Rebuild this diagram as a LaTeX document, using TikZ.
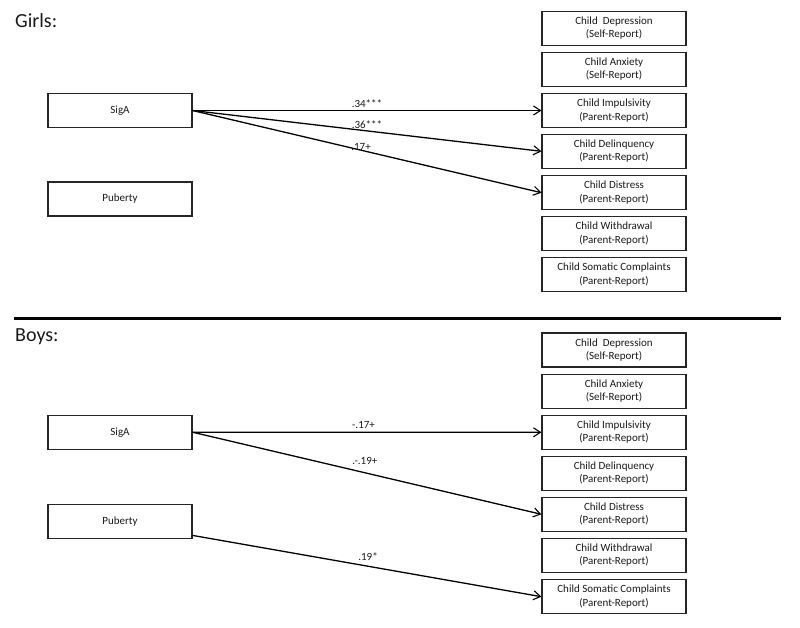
\documentclass[tikz,border=0pt]{standalone}
\usepackage{fontspec}
\setmainfont{Carlito}
\usetikzlibrary{arrows.meta}
\definecolor{txt}{HTML}{1A1A1A}
\begin{document}
\begin{tikzpicture}[x=1pt,y=-1pt,
  box/.style={draw=black!85, line width=1.1pt, minimum width=144pt, minimum height=34pt,
    inner sep=0pt, align=center, font=\fontsize{11}{13.5}\selectfont, text=txt},
  arr/.style={line width=1.3pt, -{Straight Barb[length=7pt,width=9pt,line width=1.1pt]}},
  lbl/.style={font=\fontsize{11}{13}\selectfont, text=txt, inner sep=0pt},
  ttl/.style={font=\fontsize{20}{24}\selectfont, text=txt, anchor=west, inner sep=0pt}]
\useasboundingbox (0,0) rectangle (800,627);
% titles
\node[ttl] (tG) at (15,21) {Girls:};
\node[ttl] (tB) at (15,337) {Boys:};
% separator
\coordinate (sepL) at (14,318.5);
\coordinate (sepR) at (781,318.5);
\draw[line width=3.6pt] (sepL) -- (sepR);
% Girls left
\node[box] (sigG) at (120,110.5) {SigA};
\node[box] (pubG) at (120,199) {Puberty};
% Girls right
\node[box] (depG) at (614,28.3) {Child~~Depression\\(Self-Report)};
\node[box] (anxG) at (614,69.2) {Child Anxiety\\(Self-Report)};
\node[box] (impG) at (614,110.5) {Child Impulsivity\\(Parent-Report)};
\node[box] (delG) at (614,151.3) {Child Delinquency\\(Parent-Report)};
\node[box] (disG) at (614,192.7) {Child Distress\\(Parent-Report)};
\node[box] (wdrG) at (614,233.7) {Child Withdrawal\\(Parent-Report)};
\node[box] (somG) at (614,274.7) {Child Somatic Complaints\\(Parent-Report)};
% Boys left
\node[box] (sigB) at (120,432.2) {SigA};
\node[box] (pubB) at (120,521.3) {Puberty};
% Boys right
\node[box] (depB) at (614,350) {Child~~Depression\\(Self-Report)};
\node[box] (anxB) at (614,391.2) {Child Anxiety\\(Self-Report)};
\node[box] (impB) at (614,432.3) {Child Impulsivity\\(Parent-Report)};
\node[box] (delB) at (614,473.3) {Child Delinquency\\(Parent-Report)};
\node[box] (disB) at (614,514.3) {Child Distress\\(Parent-Report)};
\node[box] (wdrB) at (614,555.3) {Child Withdrawal\\(Parent-Report)};
\node[box] (somB) at (614,596.7) {Child Somatic Complaints\\(Parent-Report)};
% Girls arrows
\draw[arr] (sigG.east) -- (impG.west) node[lbl, pos=0.5, yshift=7pt] {.34***};
\draw[arr] (sigG.east) -- (delG.west) node[lbl, pos=0.5, yshift=6.5pt] {.36***};
\draw[arr] (sigG.east) -- (disG.west) node[lbl, pos=0.483, yshift=3.6pt] {.17+};
% Boys arrows
\draw[arr] (sigB.east) -- (impB.west) node[lbl, pos=0.49, yshift=7pt] {-.17+};
\draw[arr] (sigB.east) -- (disB.west) node[lbl, pos=0.494, yshift=11.5pt] {.-.19+};
\draw[arr] (pubB.-11) -- (somB.west) node[lbl, pos=0.503, yshift=9.5pt] {.19*};
\end{tikzpicture}
\end{document}
